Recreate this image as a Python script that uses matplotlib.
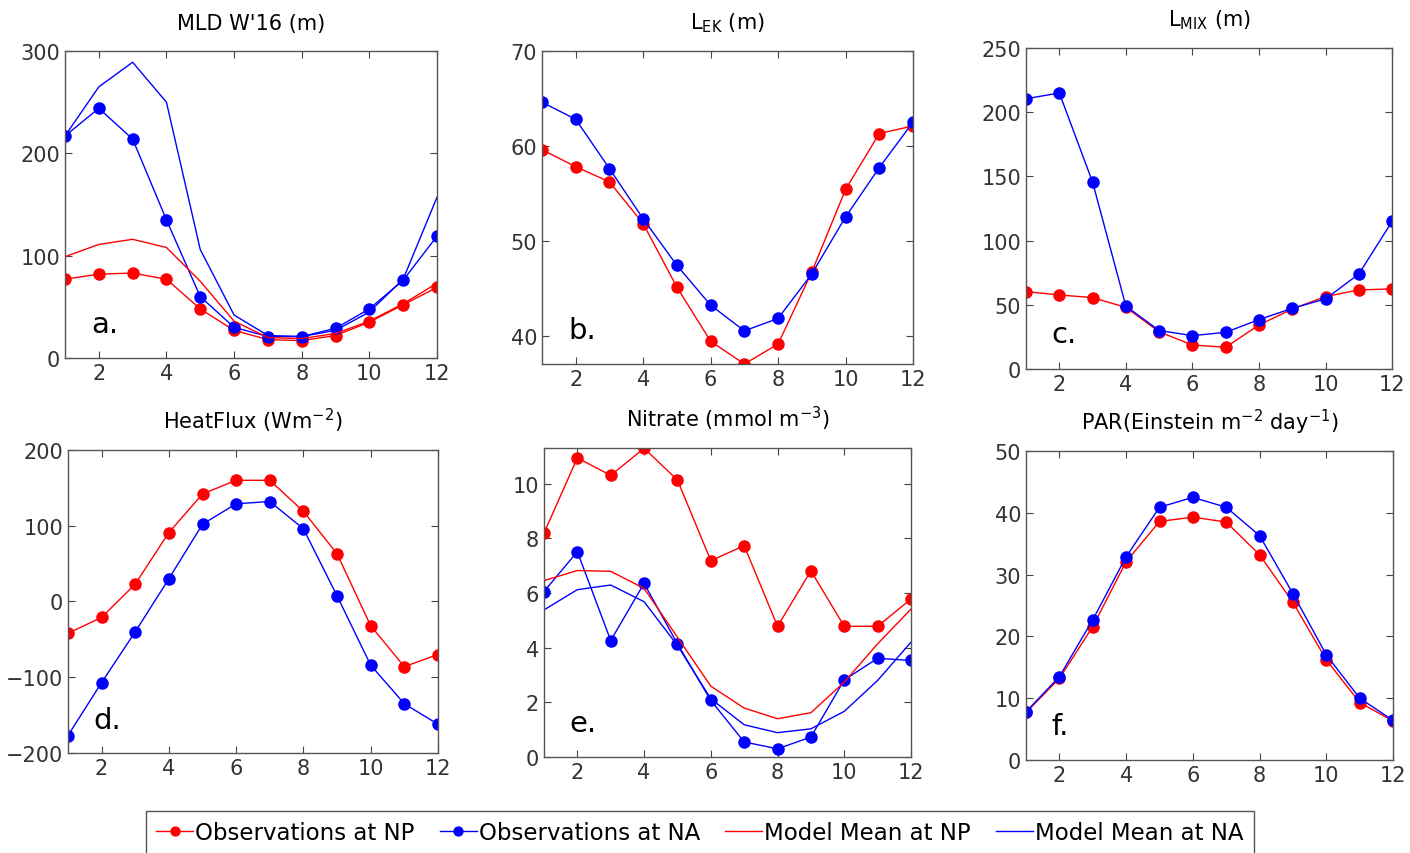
import numpy as np
import matplotlib
matplotlib.use('Agg')
import matplotlib.pyplot as plt

months = np.arange(1, 13)

# a. MLD W'16 (m)
mld_obs_np = [77, 82, 83, 77, 48, 27, 18, 17, 22, 35, 52, 69]
mld_obs_na = [217, 244, 214, 135, 60, 30, 21, 21, 29, 48, 76, 119]
mld_mod_np = [99, 111, 116, 108, 75, 36, 20, 19, 24, 36, 53, 73]
mld_mod_na = [217, 265, 289, 250, 106, 42, 22, 21, 27, 45, 77, 157]

# b. L_EK (m)
lek_obs_np = [59.6, 57.8, 56.2, 51.8, 45.1, 39.4, 37.0, 39.1, 46.7, 55.4, 61.3, 62.1]
lek_obs_na = [64.6, 62.8, 57.6, 52.3, 47.4, 43.2, 40.5, 41.8, 46.5, 52.5, 57.7, 62.5]

# c. L_MIX (m)
lmix_obs_np = [60.3, 57.7, 55.6, 48, 29, 18.7, 17, 34.3, 46.8, 56.4, 61.6, 62.4]
lmix_obs_na = [210.5, 215, 145.5, 49, 30, 26, 28.6, 38.5, 47.3, 54.6, 74, 115]

# d. HeatFlux (W m-2)
hf_obs_np = [-42, -21, 23, 91, 142, 160, 160, 119, 63, -32, -86, -70]
hf_obs_na = [-177, -107, -40, 30, 102, 129, 132, 96, 7.5, -84, -135, -162]

# e. Nitrate (mmol m-3)
no3_obs_np = [8.19, 10.94, 10.3, 11.29, 10.13, 7.18, 7.73, 4.78, 6.81, 4.78, 4.78, 5.78]
no3_obs_na = [6.05, 7.51, 4.26, 6.35, 4.14, 2.07, 0.55, 0.30, 0.73, 2.82, 3.61, 3.53]
no3_mod_np = [6.45, 6.82, 6.79, 6.17, 4.38, 2.59, 1.79, 1.40, 1.62, 2.74, 4.14, 5.41]
no3_mod_na = [5.38, 6.12, 6.29, 5.68, 4.08, 2.13, 1.18, 0.89, 1.03, 1.67, 2.80, 4.20]

# f. PAR (Einstein m-2 day-1)
par_obs_np = [7.7, 13.2, 21.6, 32.1, 38.6, 39.3, 38.5, 33.2, 25.5, 16.2, 9.3, 6.3]
par_obs_na = [7.8, 13.5, 22.7, 32.9, 40.9, 42.5, 40.9, 36.3, 26.9, 17.0, 10.0, 6.4]

titles = ["MLD W'16 (m)",
          r'L$\mathregular{_{EK}}$ (m)',
          r'L$\mathregular{_{MIX}}$ (m)',
          r'HeatFlux (Wm$\mathregular{^{-2}}$)',
          r'Nitrate (mmol m$\mathregular{^{-3}}$)',
          r'PAR(Einstein m$\mathregular{^{-2}}$ day$\mathregular{^{-1}}$)']
labels = ['a.', 'b.', 'c.', 'd.', 'e.', 'f.']
ylims = [(0, 300), (37, 70), (0, 250), (-200, 200), (0, 11.3), (0, 50)]
yticks = [[0, 100, 200, 300], [40, 50, 60, 70], [0, 50, 100, 150, 200, 250],
          [-200, -100, 0, 100, 200], [0, 2, 4, 6, 8, 10], [0, 10, 20, 30, 40, 50]]

obs_np = [mld_obs_np, lek_obs_np, lmix_obs_np, hf_obs_np, no3_obs_np, par_obs_np]
obs_na = [mld_obs_na, lek_obs_na, lmix_obs_na, hf_obs_na, no3_obs_na, par_obs_na]
mod_np = [mld_mod_np, None, None, None, no3_mod_np, None]
mod_na = [mld_mod_na, None, None, None, no3_mod_na, None]

# axes boxes [left, bottom, width, height] in figure fraction
boxes = [[0.0461, 0.5796, 0.2638, 0.3595],
         [0.3844, 0.5726, 0.2631, 0.3665],
         [0.7277, 0.5667, 0.2596, 0.3759],
         [0.0482, 0.1171, 0.2624, 0.3548],
         [0.3858, 0.1124, 0.2603, 0.3618],
         [0.7277, 0.1089, 0.2603, 0.3618]]

plt.rcParams['font.family'] = 'DejaVu Sans'
fig = plt.figure(figsize=(14.1, 8.54), dpi=100)

handles = None
for i in range(6):
    ax = fig.add_axes(boxes[i])
    h1, = ax.plot(months, obs_np[i], '-o', color='red', lw=1, ms=8)
    h2, = ax.plot(months, obs_na[i], '-o', color='blue', lw=1, ms=8)
    h3, = ax.plot(months, mod_np[i] if mod_np[i] is not None else [np.nan] * 12,
                  '-', color='red', lw=1)
    h4, = ax.plot(months, mod_na[i] if mod_na[i] is not None else [np.nan] * 12,
                  '-', color='blue', lw=1)
    if handles is None:
        handles = [h1, h2, h3, h4]
    ax.set_xlim(1, 12)
    ax.set_xticks([2, 4, 6, 8, 10, 12])
    ax.set_ylim(*ylims[i])
    ax.set_yticks(yticks[i])
    ax.tick_params(direction='in', top=True, right=True, length=5,
                   labelsize=15, labelcolor='#333333', color='#444444')
    for s in ax.spines.values():
        s.set_color('#555555')
        s.set_linewidth(1)
    ax.set_title(titles[i], fontsize=15, pad=16)
    ax.text(0.07, 0.11, labels[i], transform=ax.transAxes, fontsize=21,
            va='center', ha='left')

leg = fig.legend(handles, ['Observations at NP', 'Observations at NA',
                           'Model Mean at NP', 'Model Mean at NA'],
                 loc='lower center', bbox_to_anchor=(0.4965, -0.015), ncol=4,
                 fontsize=16.5, handlelength=1.6, handletextpad=0.1,
                 columnspacing=1.1, fancybox=False, framealpha=1,
                 edgecolor='#555555', borderpad=0.45, markerscale=0.8)
leg.get_frame().set_linewidth(1)

fig.savefig('out.png', dpi=100)
